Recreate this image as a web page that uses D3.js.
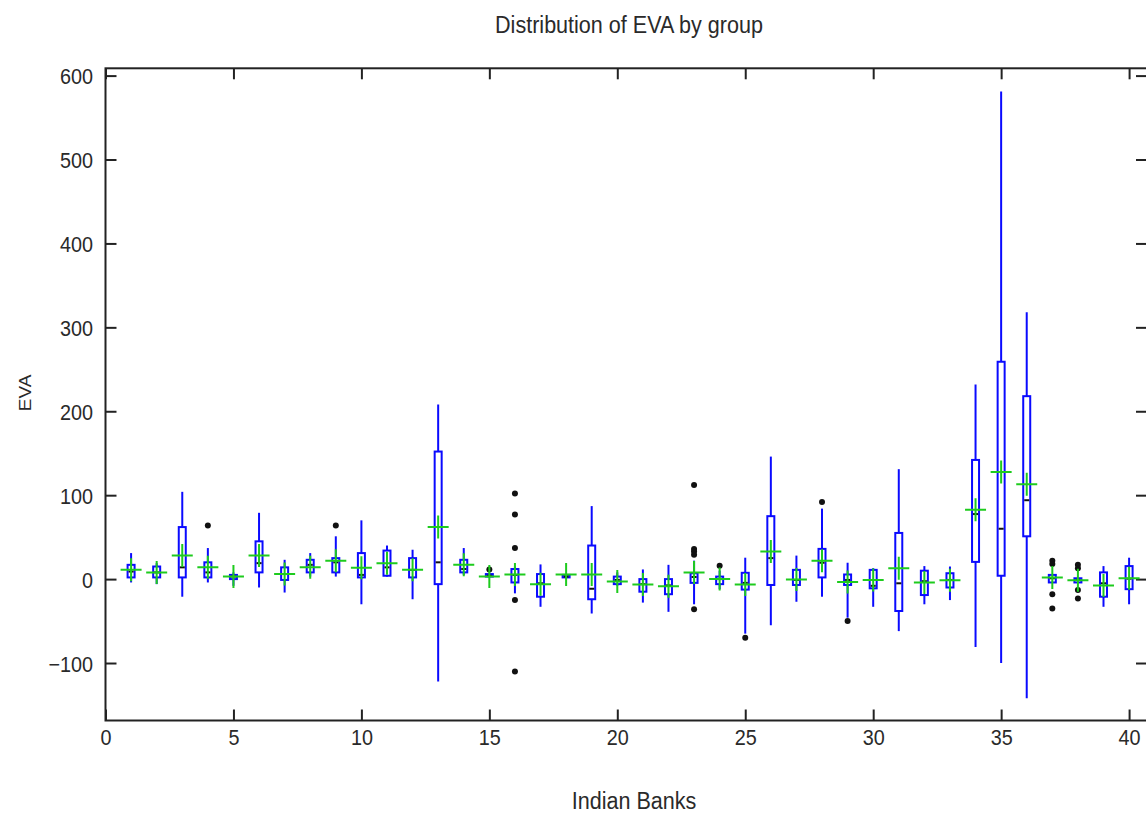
<!DOCTYPE html>
<html>
<head>
<meta charset="utf-8">
<script src="https://cdn.jsdelivr.net/npm/d3@7/dist/d3.min.js"></script>
<style>
  html, body { margin: 0; padding: 0; background: #fff; }
  svg { display: block; }
  text { fill: #2a2a2a; }
</style>
</head>
<body>
<svg id="chart" width="1146" height="813"></svg>
<script>
// ---- data ----
const banks = [1,2,3,4,5,6,7,8,9,10,11,12,13,14,15,16,17,18,19,20,
               21,22,23,24,25,26,27,28,29,30,31,32,33,34,35,36,37,38,39,40];
const whiskerLow  = [-4,-6,-21,-4,-8,-10,-16,3,3,-30,3,-24,-122,5,2,-17,-33,2,-41,-8,
                     -28,-39,-30,-12,-65,-55,-27,-21,-46,-33,-62,-30,-25,-81,-100,-142,-4,-3,-33,-30];
const q1          = [2,2,2,2,0,8,-1,8,8,2,4,2,-6,8,3,-4,-21,2,-24,-6,
                     -15,-18,-4.5,-6,-12.5,-7,-7,2,-7,-11,-38,-19,-10,20.5,4,51,-4,-4,-21,-12];
const median      = [9,8,14,8,3,19,6,17,20,5,14,11,20,12,4,5,-5,3,-11.5,-1,
                     -6,-7.5,2.5,0,-4.5,25,-1,19.5,-1,-8,-5,-2.5,-1,77.5,60,94,1,-1,-5,0.5];
const q3          = [17,15,62,20,5,45,14,23,25,31,34,25,152,23,6,12,6,5,40,3,
                     0,0,7,3,7.5,75,11,36,5.5,11,55,10,7,142,259,218,5,1,8,15.5];
const whiskerHigh = [31,19,104,37,8,79,23,31,51,70,40,35,208,37,6,15,17.5,5,87,8,
                     11.5,17,22,10,25.5,146,28,84,19.5,13,131,15.5,15,232,581,318,5,1,15.5,25.5];
const means       = [11,8,28,14,3,28,6,14,22,13.5,19,11,62,17,3,5.6,-6,5.6,5.6,-3,
                     -6.5,-8.5,8,0,-6.5,33,-0.5,22,-3.5,-1.2,13,-4,-1.4,82.5,127.5,113,2,-1.5,-7.5,1];
const outlierBank  = [4,9,15,16,16,16,16,16,23,23,23,23,23,24,25,28,29,37,37,37,37,38,38,38,38];
const outlierValue = [64,64,11.5,102,77,37,-25,-110,112,36,33,29,-36,16,-70,92,-50,22,18,-18,-35,17,13,-13,-23];
const xTicks = [0,5,10,15,20,25,30,35,40];
const yTicks = [-100,0,100,200,300,400,500,600];
const titleText = "Distribution of EVA by group";
const xLabel = "Indian Banks";
const yLabel = "EVA";

// ---- layout ----
const pLeft = 105.5, pRight = 1147, pTop = 68.3, pBottom = 720.5;
const svg = d3.select("#chart");

const x = d3.scaleLinear().domain([0, 40.7]).range([pLeft, pRight]);
const y = d3.scaleLinear().domain([-168.5, 608.7]).range([pBottom, pTop]);

const blue = "#0a0aff", green = "#1ecb1e";
const fontFam = "'Liberation Sans', Arial, sans-serif";
const sq = 0.88; // horizontal squeeze of the lettering in the reference

// frame
svg.append("rect").attr("x", pLeft).attr("y", pTop)
  .attr("width", pRight - pLeft).attr("height", pBottom - pTop)
  .attr("fill", "none").attr("stroke", "#222").attr("stroke-width", 2);

// axes with inward ticks
const gB = svg.append("g").attr("transform", `translate(0,${pBottom})`)
  .call(d3.axisBottom(x).tickValues(xTicks).tickSizeInner(-11).tickSizeOuter(0));
const gT = svg.append("g").attr("transform", `translate(0,${pTop})`)
  .call(d3.axisTop(x).tickValues(xTicks).tickSizeInner(-11).tickSizeOuter(0).tickFormat(""));
const gL = svg.append("g").attr("transform", `translate(${pLeft},0)`)
  .call(d3.axisLeft(y).tickValues(yTicks).tickSizeInner(-11).tickSizeOuter(0));
const gR = svg.append("g").attr("transform", `translate(${pRight},0)`)
  .call(d3.axisRight(y).tickValues(yTicks).tickSizeInner(-11).tickSizeOuter(0).tickFormat(""));
[gB, gT, gL, gR].forEach(g => {
  g.select(".domain").remove();
  g.selectAll(".tick line").attr("stroke", "#222").attr("stroke-width", 2);
  g.selectAll(".tick text").attr("fill", "#2a2a2a").attr("font-family", fontFam).attr("font-size", 22.5)
    .attr("transform", `scale(${sq},1)`);
});
gB.selectAll(".tick text").attr("y", 16).attr("dy", "0.36em");
gL.selectAll(".tick text").attr("x", -12.5 / sq).attr("dy", "0.36em");

// boxes
const bw = 7;
const data = banks.map((b, i) => ({
  b, lo: whiskerLow[i], q1: q1[i], med: median[i], q3: q3[i], hi: whiskerHigh[i], mean: means[i]
}));
const g = svg.append("g");
g.selectAll("line.wh").data(data).join("line").attr("class", "wh")
  .attr("x1", d => x(d.b)).attr("x2", d => x(d.b))
  .attr("y1", d => y(d.lo)).attr("y2", d => y(d.hi))
  .attr("stroke", blue).attr("stroke-width", 2);
g.selectAll("rect.box").data(data).join("rect").attr("class", "box")
  .attr("x", d => x(d.b) - bw / 2).attr("width", bw)
  .attr("y", d => y(d.q3)).attr("height", d => Math.max(1, y(d.q1) - y(d.q3)))
  .attr("fill", "#fff").attr("stroke", blue).attr("stroke-width", 2);
g.selectAll("line.med").data(data).join("line").attr("class", "med")
  .attr("x1", d => x(d.b) - bw / 2 + 1).attr("x2", d => x(d.b) + bw / 2 - 1)
  .attr("y1", d => y(d.med)).attr("y2", d => y(d.med))
  .attr("stroke", "#111").attr("stroke-width", 2);
const outs = outlierBank.map((b, i) => ({ b, v: outlierValue[i] }));
g.selectAll("circle.out").data(outs).join("circle").attr("class", "out")
  .attr("cx", d => x(d.b)).attr("cy", d => y(d.v)).attr("r", 3)
  .attr("fill", "#111");
g.selectAll("path.mean").data(data).join("path").attr("class", "mean")
  .attr("d", d => {
    const cx = x(d.b), cy = y(d.mean);
    return `M${cx - 10.5},${cy}H${cx + 10.5}M${cx},${cy - 11.5}V${cy + 11.5}`;
  })
  .attr("stroke", green).attr("stroke-width", 2).attr("fill", "none");

// titles
svg.append("text").attr("transform", `translate(629,33) scale(${sq},1)`).attr("text-anchor", "middle")
  .attr("font-family", fontFam).attr("font-size", 24.5).text(titleText);
svg.append("text").attr("transform", `translate(634,809) scale(${sq},1)`).attr("text-anchor", "middle")
  .attr("font-family", fontFam).attr("font-size", 24.5).text(xLabel);
svg.append("text").attr("transform", `translate(31,393) scale(${sq},1) rotate(-90)`).attr("text-anchor", "middle")
  .attr("font-family", fontFam).attr("font-size", 19).text(yLabel);
</script>
</body>
</html>
